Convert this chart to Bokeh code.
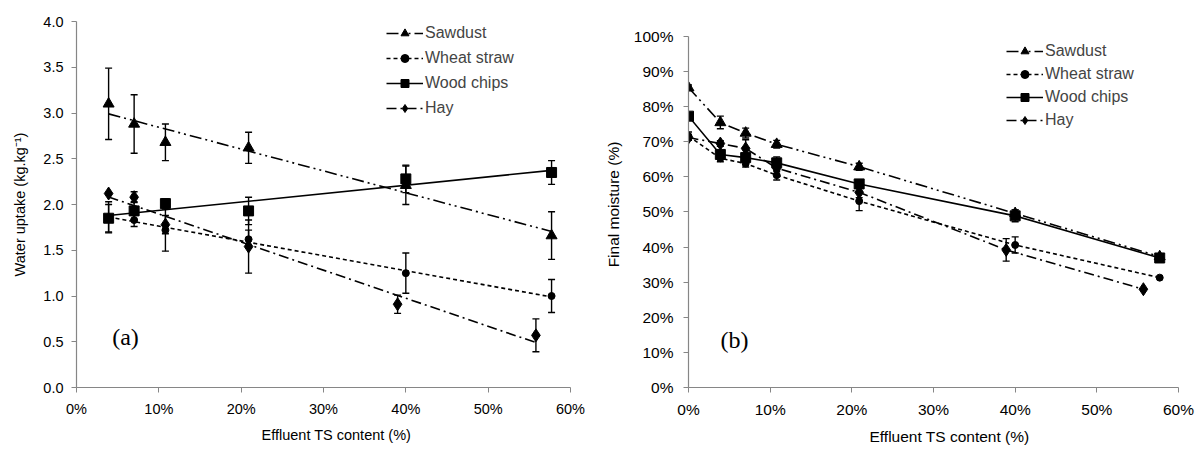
import numpy as np
from bokeh.plotting import figure
from bokeh.models import (Range1d, FixedTicker, PrintfTickFormatter, NumeralTickFormatter,
                          Label, Legend, LegendItem, Whisker, TeeHead, ColumnDataSource, Title)
from bokeh.layouts import row
from bokeh.embed import file_html
from bokeh.resources import INLINE

# ---------------- data ----------------
series_names = ["Sawdust", "Wheat straw", "Wood chips", "Hay"]

# panel (a): water uptake (kg/kg) vs effluent TS content (%)
ts_a = [3.9, 7.0, 10.8, 20.9, 40.0, 57.7]
ts_a_hay = [3.9, 7.0, 10.8, 20.9, 39.0, 55.8]
uptake_sawdust = [3.10, 2.88, 2.68, 2.62, 2.21, 1.66]
uptake_sawdust_err = [0.39, 0.32, 0.20, 0.17, 0.21, 0.26]
uptake_wheat = [1.86, 1.83, 1.72, 1.62, 1.25, 1.00]
uptake_wheat_err = [0.17, 0.07, 0.23, 0.10, 0.22, 0.18]
uptake_wood = [1.85, 1.93, 2.01, 1.93, 2.28, 2.35]
uptake_wood_err = [0.15, 0.10, 0.05, 0.15, 0.15, 0.13]
uptake_hay = [2.12, 2.08, 1.78, 1.54, 0.91, 0.57]
uptake_hay_err = [0.0, 0.06, 0.10, 0.29, 0.10, 0.18]

# panel (b): final moisture (%) vs effluent TS content (%)
ts_b = [0.0, 3.9, 7.0, 10.8, 20.9, 40.0, 57.7]
ts_b_hay = [0.0, 3.9, 7.0, 10.8, 20.9, 38.9, 55.7]
moist_sawdust = [85.4, 75.5, 72.5, 69.3, 62.9, 49.6, 37.3]
moist_sawdust_err = [0.8, 1.8, 1.4, 1.1, 1.0, 1.0, 0.0]
moist_wheat = [71.6, 65.3, 63.8, 60.5, 53.1, 40.6, 31.3]
moist_wheat_err = [1.2, 1.0, 1.0, 1.4, 2.7, 2.3, 0.0]
moist_wood = [77.3, 66.4, 65.5, 64.0, 58.0, 48.9, 36.9]
moist_wood_err = [0.5, 1.0, 1.0, 1.7, 1.2, 1.7, 0.5]
moist_hay = [71.2, 69.5, 68.1, 62.5, 55.6, 39.2, 28.0]
moist_hay_err = [0.0, 0.8, 2.5, 1.0, 1.5, 3.2, 0.0]

x_ticks = [0, 10, 20, 30, 40, 50, 60]
ya_ticks = [0.0, 0.5, 1.0, 1.5, 2.0, 2.5, 3.0, 3.5, 4.0]
yb_ticks = [0, 10, 20, 30, 40, 50, 60, 70, 80, 90, 100]

# ---------------- styles ----------------
FONT = "Liberation Sans"
AXIS_COLOR = "#868686"
styles = {
    "Sawdust": dict(marker="triangle", size=11, dash="12 4 2 4 2 4"),
    "Wheat straw": dict(marker="circle", size=7, dash="4 3"),
    "Wood chips": dict(marker="square", size=10, dash="solid"),
    "Hay": dict(marker="diamond", size=13, dash="10 4 2 4"),
}


def style_axes(p, fs, ystand):
    p.outline_line_color = None
    p.grid.visible = False
    for ax in (p.xaxis, p.yaxis):
        ax.axis_line_color = AXIS_COLOR
        ax.axis_line_width = 1.2
        ax.major_tick_line_color = AXIS_COLOR
        ax.major_tick_out = 5
        ax.major_tick_in = 0
        ax.minor_tick_line_color = None
        ax.major_label_text_font = FONT
        ax.major_label_text_font_size = fs
        ax.major_label_text_color = "black"
        ax.axis_label_text_font = FONT
        ax.axis_label_text_font_size = fs
        ax.axis_label_text_font_style = "normal"
        ax.axis_label_text_color = "black"
    p.xaxis.ticker = FixedTicker(ticks=x_ticks)
    p.xaxis.formatter = PrintfTickFormatter(format="%d%%")
    p.xaxis.major_label_standoff = 8
    p.yaxis.major_label_standoff = ystand


def add_errors(p, xs, ys, errs):
    xx = [x for x, e in zip(xs, errs) if e > 0]
    up = [y + e for y, e in zip(ys, errs) if e > 0]
    lo = [y - e for y, e in zip(ys, errs) if e > 0]
    src = ColumnDataSource(dict(x=xx, upper=up, lower=lo))
    w = Whisker(base="x", upper="upper", lower="lower", source=src,
                line_color="black", line_width=1.4,
                upper_head=TeeHead(size=7, line_width=1.4, line_color="black"),
                lower_head=TeeHead(size=7, line_width=1.4, line_color="black"))
    p.add_layout(w)


def add_xtitle(p, offset, fs):
    t = Title(text="Effluent TS content (%)", align="left", offset=offset,
              text_font=FONT, text_font_size=fs, text_font_style="normal",
              text_color="black", standoff=10)
    p.add_layout(t, "below")


def make_legend(items, loc, spacing):
    return Legend(items=items, location=loc, glyph_width=37, glyph_height=20,
                  spacing=spacing, padding=0, margin=0, label_standoff=2,
                  label_text_font=FONT, label_text_font_size="16px",
                  border_line_color=None, background_fill_alpha=0)


# ---------------- panel (a) ----------------
p1 = figure(width=600, height=453, x_range=Range1d(0, 60), y_range=Range1d(0, 4),
            output_backend="svg", toolbar_location=None,
            min_border_left=76, min_border_right=30, min_border_top=21, min_border_bottom=66)
style_axes(p1, "14.5px", 8)
p1.yaxis.ticker = FixedTicker(ticks=ya_ticks)
p1.yaxis.formatter = NumeralTickFormatter(format="0.0")
p1.yaxis.axis_label = "Water uptake (kg.kg\u207b\u00b9)"
p1.yaxis.axis_label_standoff = 12

data_a = [
    ("Sawdust", ts_a, uptake_sawdust, uptake_sawdust_err),
    ("Wheat straw", ts_a, uptake_wheat, uptake_wheat_err),
    ("Wood chips", ts_a, uptake_wood, uptake_wood_err),
    ("Hay", ts_a_hay, uptake_hay, uptake_hay_err),
]
items_a = []
for name, xs, ys, errs in data_a:
    st = styles[name]
    add_errors(p1, xs, ys, errs)
    slope, intercept = np.polyfit(xs, ys, 1)
    tx = [xs[0], xs[-1]]
    ty = [slope * xs[0] + intercept, slope * xs[-1] + intercept]
    lr = p1.line(tx, ty, line_color="black", line_width=1.6, line_dash=st["dash"])
    sr = p1.scatter(xs, ys, marker=st["marker"], size=st["size"], fill_color="black",
                    line_color="black")
    items_a.append(LegendItem(label=name, renderers=[lr, sr]))

p1.add_layout(make_legend(items_a, (310, 269), 5), "center")
add_xtitle(p1, 185, "14.5px")
p1.add_layout(Label(x=5.95, y=0.55, text="(a)", text_align="center", text_baseline="middle",
                    text_font="Liberation Serif", text_font_size="24px", text_color="black"))

# ---------------- panel (b) ----------------
# frame spans the same height as panel (a); the axis line stops at 100 %
p2 = figure(width=600, height=453, x_range=Range1d(0, 60), y_range=Range1d(0, 104.27),
            output_backend="svg", toolbar_location=None,
            min_border_left=88, min_border_right=22, min_border_top=21, min_border_bottom=66)
style_axes(p2, "15.5px", 10)
p2.yaxis.ticker = FixedTicker(ticks=yb_ticks)
p2.yaxis.formatter = PrintfTickFormatter(format="%d%%")
p2.yaxis.bounds = (0, 100)
p2.yaxis.axis_label = "Final moisture (%)"
p2.yaxis.axis_label_standoff = 9

data_b = [
    ("Sawdust", ts_b, moist_sawdust, moist_sawdust_err),
    ("Wheat straw", ts_b, moist_wheat, moist_wheat_err),
    ("Wood chips", ts_b, moist_wood, moist_wood_err),
    ("Hay", ts_b_hay, moist_hay, moist_hay_err),
]
items_b = []
for name, xs, ys, errs in data_b:
    st = styles[name]
    add_errors(p2, xs, ys, errs)
    lr = p2.line(xs, ys, line_color="black", line_width=1.6, line_dash=st["dash"])
    sr = p2.scatter(xs, ys, marker=st["marker"], size=st["size"], fill_color="black",
                    line_color="black")
    items_b.append(LegendItem(label=name, renderers=[lr, sr]))

p2.add_layout(make_legend(items_b, (318, 257), 3), "center")
add_xtitle(p2, 181, "15.5px")
p2.add_layout(Label(x=5.63, y=13.6, text="(b)", text_align="center", text_baseline="middle",
                    text_font="Liberation Serif", text_font_size="24px", text_color="black"))

layout = row(p1, p2)
open("out.html", "w").write(file_html(layout, INLINE))
